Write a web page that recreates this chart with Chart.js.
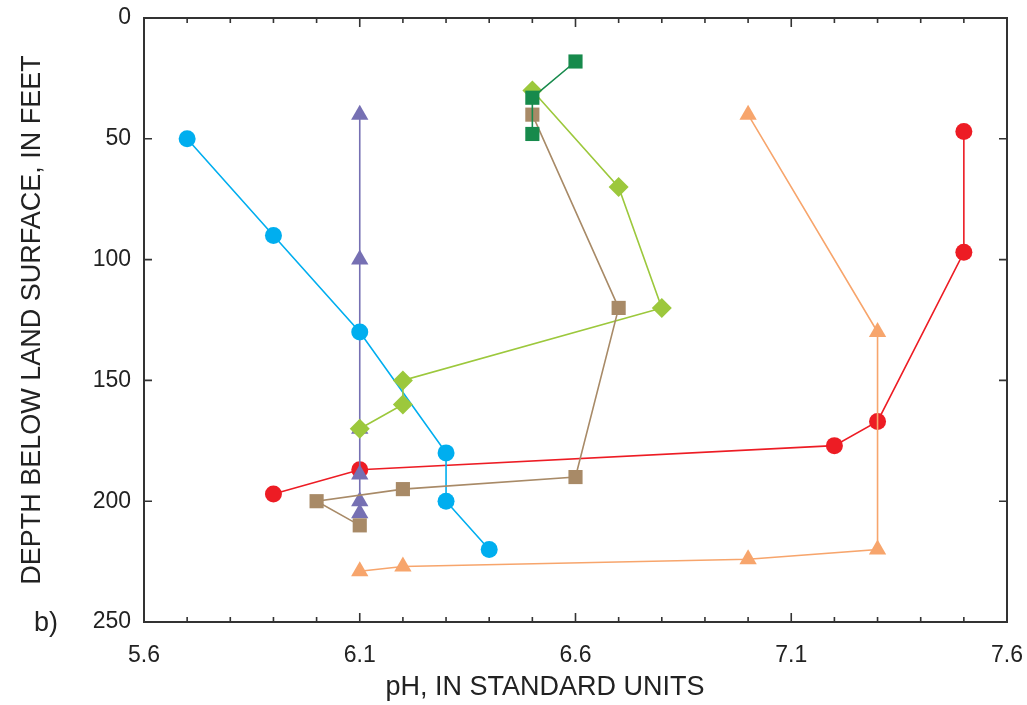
<!DOCTYPE html>
<html>
<head>
<meta charset="utf-8">
<script src="https://cdn.jsdelivr.net/npm/chart.js@4.4.1/dist/chart.umd.min.js"></script>
<style>
  html, body { margin: 0; padding: 0; background: #fff; }
  #wrap { width: 1027px; height: 705px; }
</style>
</head>
<body>
<div id="wrap"><canvas id="phChart" width="1027" height="705"></canvas></div>
<script>
// pH (x) and depth in feet (y) for each well profile
const cyanPH = [5.7, 5.9, 6.1, 6.3, 6.3, 6.4];
const cyanDepth = [50, 90, 130, 180, 200, 220];

const purplePH = [6.1, 6.1, 6.1, 6.1, 6.1, 6.1];
const purpleDepth = [40, 100, 170, 189, 200, 205];

const limePH = [6.5, 6.7, 6.8, 6.2, 6.2, 6.1];
const limeDepth = [30, 70, 120, 150, 160, 170];

const darkGreenPH = [6.6, 6.5, 6.5];
const darkGreenDepth = [18, 33, 48];

const tanPH = [6.5, 6.7, 6.6, 6.2, 6.0, 6.1];
const tanDepth = [40, 120, 190, 195, 200, 210];

const redPH = [7.5, 7.5, 7.3, 7.2, 6.1, 5.9];
const redDepth = [47, 97, 167, 177, 187, 197];

const orangePH = [7.0, 7.3, 7.3, 7.0, 6.2, 6.1];
const orangeDepth = [40, 130, 220, 224, 227, 229];

const xLabels = ['5.6', '6.1', '6.6', '7.1', '7.6'];
const yTicks = [0, 50, 100, 150, 200, 250];

function toPoints(xs, ys) {
    return xs.map((x, i) => ({ x: x, y: ys[i] }));
}

function series(xs, ys, color, style, radius) {
    return {
        data: toPoints(xs, ys),
        showLine: true,
        borderColor: color,
        backgroundColor: color,
        borderWidth: 1.6,
        pointStyle: style,
        pointRadius: radius,
        pointHoverRadius: radius,
        pointBorderWidth: 0
    };
}

// Inward ticks on all four sides, the frame, x title and the panel letter
const framePlugin = {
    id: 'frame',
    afterDraw(chart) {
        const ctx = chart.ctx;
        const a = chart.chartArea;
        const xs = chart.scales.x;
        const ys = chart.scales.y;
        ctx.save();
        ctx.strokeStyle = '#333';
        ctx.lineWidth = 2;
        ctx.strokeRect(a.left, a.top, a.right - a.left, a.bottom - a.top);
        ctx.lineWidth = 1.6;
        ctx.beginPath();
        xs.ticks.forEach((t) => {
            const px = xs.getPixelForValue(t.value);
            const major = xLabels.includes(t.value.toFixed(1));
            const len = major ? 9 : 5;
            ctx.moveTo(px, a.bottom);
            ctx.lineTo(px, a.bottom - len);
            ctx.moveTo(px, a.top);
            ctx.lineTo(px, a.top + len);
        });
        ys.ticks.forEach((t) => {
            const py = ys.getPixelForValue(t.value);
            ctx.moveTo(a.left, py);
            ctx.lineTo(a.left + 8, py);
            ctx.moveTo(a.right, py);
            ctx.lineTo(a.right - 8, py);
        });
        ctx.stroke();
        ctx.fillStyle = '#222';
        ctx.font = '27px "Liberation Sans", Arial, sans-serif';
        ctx.textBaseline = 'middle';
        ctx.textAlign = 'left';
        ctx.fillText('b)', 34, 624);
        ctx.textAlign = 'center';
        ctx.fillText('pH, IN STANDARD UNITS', 545, 688);
        ctx.restore();
    }
};

const ctx = document.getElementById('phChart').getContext('2d');
const tickFont = { family: '"Liberation Sans", Arial, sans-serif', size: 23 };
const titleFont = { family: '"Liberation Sans", Arial, sans-serif', size: 27 };

new Chart(ctx, {
    type: 'scatter',
    data: {
        datasets: [
            series(darkGreenPH, darkGreenDepth, '#178a4c', 'rect', 10),
            series(orangePH, orangeDepth, '#f7a56c', 'triangle', 10),
            series(tanPH, tanDepth, '#a88a67', 'rect', 10),
            series(limePH, limeDepth, '#9cc83c', 'rectRot', 10),
            series(cyanPH, cyanDepth, '#00aeef', 'circle', 8.5),
            series(purplePH, purpleDepth, '#7670b3', 'triangle', 10),
            series(redPH, redDepth, '#ed1c24', 'circle', 8.5)
        ]
    },
    options: {
        responsive: false,
        animation: false,
        layout: { padding: { left: 0, right: 20, top: 18, bottom: 0 } },
        plugins: {
            legend: { display: false },
            tooltip: { enabled: false }
        },
        scales: {
            x: {
                type: 'linear',
                min: 5.6,
                max: 7.6,
                grid: { display: false },
                border: { display: false },
                ticks: {
                    stepSize: 0.1,
                    autoSkip: false,
                    maxRotation: 0,
                    padding: 12,
                    color: '#222',
                    font: tickFont,
                    callback: (v) => {
                        const s = Number(v).toFixed(1);
                        return xLabels.includes(s) ? s : '';
                    }
                },
                title: { display: false },
                afterFit: (scale) => {
                    scale.height = 83;
                    scale.paddingLeft = 0;
                    scale.paddingRight = 0;
                }
            },
            y: {
                type: 'linear',
                reverse: true,
                min: yTicks[0],
                max: yTicks[yTicks.length - 1],
                grid: { display: false },
                border: { display: false },
                ticks: {
                    stepSize: 50,
                    padding: 5,
                    color: '#222',
                    font: tickFont
                },
                title: {
                    display: true,
                    text: 'DEPTH BELOW LAND SURFACE, IN FEET',
                    color: '#222',
                    font: titleFont,
                    padding: { top: 16, bottom: 14 }
                },
                afterFit: (scale) => {
                    scale.width = 144;
                    scale.paddingTop = 0;
                    scale.paddingBottom = 0;
                }
            }
        }
    },
    plugins: [framePlugin]
});
</script>
</body>
</html>
